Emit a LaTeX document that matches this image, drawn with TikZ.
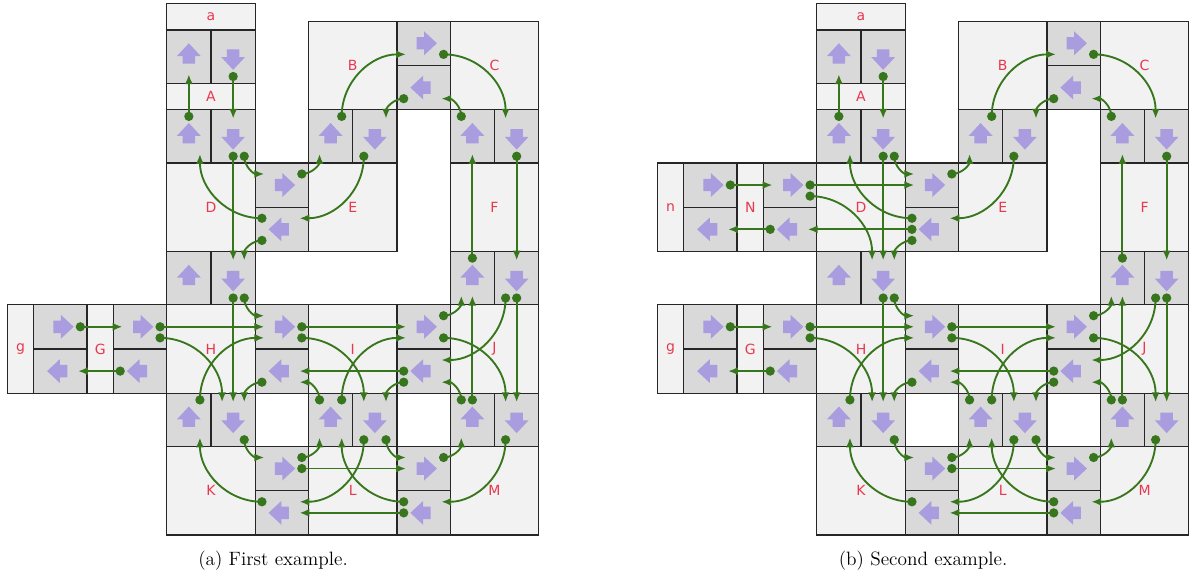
\documentclass[tikz,border=0pt]{standalone}
\usepackage{fontspec}
\usetikzlibrary{arrows.meta}
\newfontfamily\roomfont{DejaVu Sans}
\definecolor{roomgray}{HTML}{F2F2F2}
\definecolor{portgray}{HTML}{D9D9D9}
\definecolor{flowgreen}{HTML}{38761D}
\definecolor{dirpurple}{HTML}{A99DE0}
\definecolor{roomred}{HTML}{E8384F}

\newcommand{\gadgetmap}[1]{
  \node[hroom] (#1a) at (1,11.7) {a};
  \node[hroom] (#1A) at (1,9.9) {A};
  \node[bigroom] (#1B) at (4.2,10.6) {B};
  \node[bigroom] (#1C) at (7.4,10.6) {C};
  \node[bigroom] (#1D) at (1,7.4) {D};
  \node[bigroom] (#1E) at (4.2,7.4) {E};
  \node[bigroom] (#1F) at (7.4,7.4) {F};
  \node[vroom] (#1g) at (-3.3,4.2) {g};
  \node[vroom] (#1G) at (-1.5,4.2) {G};
  \node[bigroom] (#1H) at (1,4.2) {H};
  \node[bigroom] (#1I) at (4.2,4.2) {I};
  \node[bigroom] (#1J) at (7.4,4.2) {J};
  \node[bigroom] (#1K) at (1,1) {K};
  \node[bigroom] (#1L) at (4.2,1) {L};
  \node[bigroom] (#1M) at (7.4,1) {M};
  \node[pup] (#1aAu) at (0.5,10.8) {};
  \node[pdown] (#1aAd) at (1.5,10.8) {};
  \node[pup] (#1ADu) at (0.5,9) {};
  \node[pdown] (#1ADd) at (1.5,9) {};
  \node[pup] (#1BEu) at (3.7,9) {};
  \node[pdown] (#1BEd) at (4.7,9) {};
  \node[pup] (#1CFu) at (6.9,9) {};
  \node[pdown] (#1CFd) at (7.9,9) {};
  \node[pup] (#1DHu) at (0.5,5.8) {};
  \node[pdown] (#1DHd) at (1.5,5.8) {};
  \node[pup] (#1FJu) at (6.9,5.8) {};
  \node[pdown] (#1FJd) at (7.9,5.8) {};
  \node[pup] (#1HKu) at (0.5,2.6) {};
  \node[pdown] (#1HKd) at (1.5,2.6) {};
  \node[pup] (#1ILu) at (3.7,2.6) {};
  \node[pdown] (#1ILd) at (4.7,2.6) {};
  \node[pup] (#1JMu) at (6.9,2.6) {};
  \node[pdown] (#1JMd) at (7.9,2.6) {};
  \node[pright] (#1BCr) at (5.8,11.1) {};
  \node[pleft] (#1BCl) at (5.8,10.1) {};
  \node[pright] (#1DEr) at (2.6,7.9) {};
  \node[pleft] (#1DEl) at (2.6,6.9) {};
  \node[pright] (#1gGr) at (-2.4,4.7) {};
  \node[pleft] (#1gGl) at (-2.4,3.7) {};
  \node[pright] (#1GHr) at (-0.6,4.7) {};
  \node[pleft] (#1GHl) at (-0.6,3.7) {};
  \node[pright] (#1HIr) at (2.6,4.7) {};
  \node[pleft] (#1HIl) at (2.6,3.7) {};
  \node[pright] (#1IJr) at (5.8,4.7) {};
  \node[pleft] (#1IJl) at (5.8,3.7) {};
  \node[pright] (#1KLr) at (2.6,1.5) {};
  \node[pleft] (#1KLl) at (2.6,0.5) {};
  \node[pright] (#1LMr) at (5.8,1.5) {};
  \node[pleft] (#1LMl) at (5.8,0.5) {};
  \draw[flow] ([yshift=-1.5mm]#1ADu.north) node[dot] {} -- ([yshift=2mm]#1aAu.south);
  \draw[flow] ([yshift=1.5mm]#1aAd.south) node[dot] {} -- ([yshift=-2mm]#1ADd.north);
  \draw[flow] ([shift={(2.5mm,-1.5mm)}]#1BEu.north) node[dot] {} to[out=90,in=180] ([shift={(2mm,-2.5mm)}]#1BCr.west);
  \draw[flow] ([shift={(1.5mm,-2.5mm)}]#1BCl.west) node[dot] {} to[out=180,in=90] ([shift={(2.5mm,-2mm)}]#1BEd.north);
  \draw[flow] ([shift={(-1.5mm,-2.5mm)}]#1BCr.east) node[dot] {} to[out=0,in=90] ([shift={(-2.5mm,-2mm)}]#1CFd.north);
  \draw[flow] ([shift={(-2.5mm,-1.5mm)}]#1CFu.north) node[dot] {} to[out=90,in=0] ([shift={(-2mm,-2.5mm)}]#1BCl.east);
  \draw[flow] ([yshift=1.5mm]#1ADd.south) node[dot] {} -- ([yshift=-2mm]#1DHd.north);
  \draw[flow] ([shift={(2.5mm,1.5mm)}]#1ADd.south) node[dot] {} to[out=270,in=180] ([shift={(2mm,2.5mm)}]#1DEr.west);
  \draw[flow] ([shift={(1.5mm,2.5mm)}]#1DEl.west) node[dot] {} to[out=180,in=270] ([shift={(2.5mm,2mm)}]#1ADu.south);
  \draw[flow] ([shift={(1.5mm,-2.5mm)}]#1DEl.west) node[dot] {} to[out=180,in=90] ([shift={(2.5mm,-2mm)}]#1DHd.north);
  \draw[flow] ([shift={(-1.5mm,2.5mm)}]#1DEr.east) node[dot] {} to[out=0,in=270] ([shift={(-2.5mm,2mm)}]#1BEu.south);
  \draw[flow] ([shift={(-2.5mm,1.5mm)}]#1BEd.south) node[dot] {} to[out=270,in=0] ([shift={(-2mm,2.5mm)}]#1DEl.east);
  \draw[flow] ([yshift=1.5mm]#1CFd.south) node[dot] {} -- ([yshift=-2mm]#1FJd.north);
  \draw[flow] ([yshift=-1.5mm]#1FJu.north) node[dot] {} -- ([yshift=2mm]#1CFu.south);
  \draw[flow] ([xshift=-1.5mm]#1gGr.east) node[dot] {} -- ([xshift=2mm]#1GHr.west);
  \draw[flow] ([xshift=1.5mm]#1GHl.west) node[dot] {} -- ([xshift=-2mm]#1gGl.east);
  \draw[flow] ([yshift=1.5mm]#1DHd.south) node[dot] {} -- ([yshift=-2mm]#1HKd.north);
  \draw[flow] ([shift={(2.5mm,1.5mm)}]#1DHd.south) node[dot] {} to[out=270,in=180] ([shift={(2mm,2.5mm)}]#1HIr.west);
  \draw[flow] ([xshift=-1.5mm]#1GHr.east) node[dot] {} -- ([xshift=2mm]#1HIr.west);
  \draw[flow] ([shift={(-1.5mm,-2.5mm)}]#1GHr.east) node[dot] {} to[out=0,in=90] ([shift={(-2.5mm,-2mm)}]#1HKd.north);
  \draw[flow] ([shift={(2.5mm,-1.5mm)}]#1HKu.north) node[dot] {} to[out=90,in=180] ([shift={(2mm,-2.5mm)}]#1HIr.west);
  \draw[flow] ([shift={(1.5mm,-2.5mm)}]#1HIl.west) node[dot] {} to[out=180,in=90] ([shift={(2.5mm,-2mm)}]#1HKd.north);
  \draw[flow] ([xshift=-1.5mm]#1HIr.east) node[dot] {} -- ([xshift=2mm]#1IJr.west);
  \draw[flow] ([shift={(-1.5mm,-2.5mm)}]#1HIr.east) node[dot] {} to[out=0,in=90] ([shift={(-2.5mm,-2mm)}]#1ILd.north);
  \draw[flow] ([xshift=1.5mm]#1IJl.west) node[dot] {} -- ([xshift=-2mm]#1HIl.east);
  \draw[flow] ([shift={(1.5mm,-2.5mm)}]#1IJl.west) node[dot] {} to[out=180,in=90] ([shift={(2.5mm,-2mm)}]#1ILd.north);
  \draw[flow] ([shift={(-2.5mm,-1.5mm)}]#1ILu.north) node[dot] {} to[out=90,in=0] ([shift={(-2mm,-2.5mm)}]#1HIl.east);
  \draw[flow] ([shift={(2.5mm,-1.5mm)}]#1ILu.north) node[dot] {} to[out=90,in=180] ([shift={(2mm,-2.5mm)}]#1IJr.west);
  \draw[flow] ([shift={(-1.5mm,2.5mm)}]#1IJr.east) node[dot] {} to[out=0,in=270] ([shift={(-2.5mm,2mm)}]#1FJu.south);
  \draw[flow] ([yshift=-1.5mm]#1JMu.north) node[dot] {} -- ([yshift=2mm]#1FJu.south);
  \draw[flow] ([shift={(-2.5mm,1.5mm)}]#1FJd.south) node[dot] {} to[out=270,in=0] ([shift={(-2mm,2.5mm)}]#1IJl.east);
  \draw[flow] ([yshift=1.5mm]#1FJd.south) node[dot] {} -- ([yshift=-2mm]#1JMd.north);
  \draw[flow] ([shift={(-1.5mm,-2.5mm)}]#1IJr.east) node[dot] {} to[out=0,in=90] ([shift={(-2.5mm,-2mm)}]#1JMd.north);
  \draw[flow] ([shift={(-2.5mm,-1.5mm)}]#1JMu.north) node[dot] {} to[out=90,in=0] ([shift={(-2mm,-2.5mm)}]#1IJl.east);
  \draw[flow] ([shift={(2.5mm,1.5mm)}]#1HKd.south) node[dot] {} to[out=270,in=180] ([shift={(2mm,2.5mm)}]#1KLr.west);
  \draw[flow] ([shift={(1.5mm,2.5mm)}]#1KLl.west) node[dot] {} to[out=180,in=270] ([shift={(2.5mm,2mm)}]#1HKu.south);
  \draw[flow] ([shift={(-1.5mm,2.5mm)}]#1KLr.east) node[dot] {} to[out=0,in=270] ([shift={(-2.5mm,2mm)}]#1ILu.south);
  \draw[flow] ([xshift=-1.5mm]#1KLr.east) node[dot] {} -- ([xshift=2mm]#1LMr.west);
  \draw[flow] ([shift={(-2.5mm,1.5mm)}]#1ILd.south) node[dot] {} to[out=270,in=0] ([shift={(-2mm,2.5mm)}]#1KLl.east);
  \draw[flow] ([shift={(2.5mm,1.5mm)}]#1ILd.south) node[dot] {} to[out=270,in=180] ([shift={(2mm,2.5mm)}]#1LMr.west);
  \draw[flow] ([shift={(1.5mm,2.5mm)}]#1LMl.west) node[dot] {} to[out=180,in=270] ([shift={(2.5mm,2mm)}]#1ILu.south);
  \draw[flow] ([xshift=1.5mm]#1LMl.west) node[dot] {} -- ([xshift=-2mm]#1KLl.east);
  \draw[flow] ([shift={(-1.5mm,2.5mm)}]#1LMr.east) node[dot] {} to[out=0,in=270] ([shift={(-2.5mm,2mm)}]#1JMu.south);
  \draw[flow] ([shift={(-2.5mm,1.5mm)}]#1JMd.south) node[dot] {} to[out=270,in=0] ([shift={(-2mm,2.5mm)}]#1LMl.east);
}

\begin{document}
\begin{tikzpicture}
        [cell/.style={draw=black!85, line width=0.8pt, inner sep=0pt, outer sep=0pt},
         room/.style={cell, fill=roomgray, text=roomred, font=\roomfont\fontsize{9}{10}\selectfont},
         bigroom/.style={room, minimum width=2cm, minimum height=2cm},
         hroom/.style={room, minimum width=2cm, minimum height=0.6cm},
         vroom/.style={room, minimum width=0.6cm, minimum height=2cm},
         port/.style={cell, fill=portgray},
         pup/.style={port, minimum width=1cm, minimum height=1.2cm, path picture={\fill[dirpurple] (path picture bounding box.center) ++(0,0.3) -- ++(-0.27,-0.29) -- ++(0.13,0) -- ++(0,-0.17) -- ++(0.28,0) -- ++(0,0.17) -- ++(0.13,0) -- cycle;}},
         pdown/.style={port, minimum width=1cm, minimum height=1.2cm, path picture={\fill[dirpurple] (path picture bounding box.center) ++(0,-0.3) -- ++(0.27,0.29) -- ++(-0.13,0) -- ++(0,0.17) -- ++(-0.28,0) -- ++(0,-0.17) -- ++(-0.13,0) -- cycle;}},
         pright/.style={port, minimum width=1.2cm, minimum height=1cm, path picture={\fill[dirpurple] (path picture bounding box.center) ++(0.3,0) -- ++(-0.29,0.27) -- ++(0,-0.13) -- ++(-0.17,0) -- ++(0,-0.28) -- ++(0.17,0) -- ++(0,-0.13) -- cycle;}},
         pleft/.style={port, minimum width=1.2cm, minimum height=1cm, path picture={\fill[dirpurple] (path picture bounding box.center) ++(-0.3,0) -- ++(0.29,-0.27) -- ++(0,0.13) -- ++(0.17,0) -- ++(0,0.28) -- ++(-0.17,0) -- ++(0,0.13) -- cycle;}},
         flow/.style={draw=flowgreen, line width=1.2pt, -{Latex[length=2.2mm, width=1.8mm]}},
         dot/.style={circle, fill=flowgreen, inner sep=0pt, minimum size=2.1mm},
         caption/.style={font=\fontsize{12.4}{15}\selectfont}]

        \useasboundingbox (-3.763,-0.903) rectangle (23.167,12.077);

        \gadgetmap{fa}
        \node[caption] (capa) at (2.4,-0.58) {(a) First example.};

        \begin{scope}[xshift=14.673cm]
          \gadgetmap{fb}
          \node[vroom] (fbn) at (-3.3,7.4) {n};
          \node[vroom] (fbN) at (-1.5,7.4) {N};
          \node[pright] (fbnNr) at (-2.4,7.9) {};
          \node[pleft] (fbnNl) at (-2.4,6.9) {};
          \node[pright] (fbNDr) at (-0.6,7.9) {};
          \node[pleft] (fbNDl) at (-0.6,6.9) {};
          \draw[flow] ([xshift=-1.5mm]fbnNr.east) node[dot] {} -- ([xshift=2mm]fbNDr.west);
          \draw[flow] ([xshift=1.5mm]fbNDl.west) node[dot] {} -- ([xshift=-2mm]fbnNl.east);
          \draw[flow] ([xshift=-1.5mm]fbNDr.east) node[dot] {} -- ([xshift=2mm]fbDEr.west);
          \draw[flow] ([shift={(-1.5mm,-2.5mm)}]fbNDr.east) node[dot] {} to[out=0,in=90] ([shift={(-2.5mm,-2mm)}]fbDHd.north);
          \draw[flow] ([xshift=1.5mm]fbDEl.west) node[dot] {} -- ([xshift=-2mm]fbNDl.east);
          \node[caption] (capb) at (2.4,-0.58) {(b) Second example.};
        \end{scope}
      \end{tikzpicture}
\end{document}
